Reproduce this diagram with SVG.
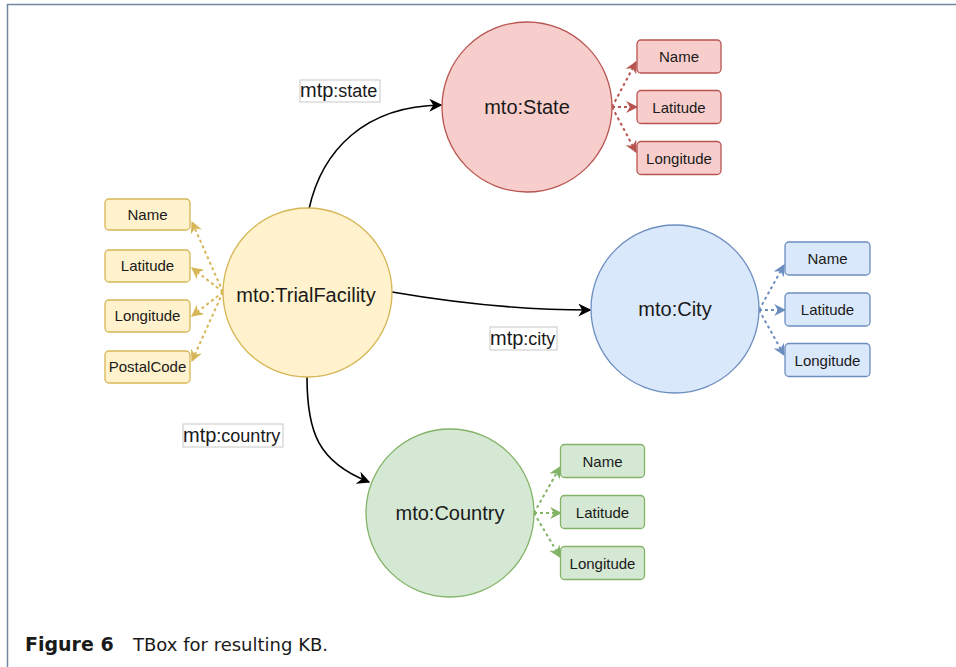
<svg xmlns="http://www.w3.org/2000/svg" width="956" height="667" viewBox="0 0 956 667">
<style>
text{font-family:"Liberation Sans",Arial,Helvetica,sans-serif;fill:#1a1a1a}
.nodeT{font-size:20px;text-anchor:middle}
.prop{font-size:15px;text-anchor:middle}
.edge{fill:none;stroke:#000;stroke-width:1.6}
.dy{fill:none;stroke:#d6b656;stroke-width:2;stroke-dasharray:3 3}
.dr{fill:none;stroke:#b85450;stroke-width:2;stroke-dasharray:3 3}
.db{fill:none;stroke:#6c8ebf;stroke-width:2;stroke-dasharray:3 3}
.dg{fill:none;stroke:#82b366;stroke-width:2;stroke-dasharray:3 3}
.y{fill:#fff2cc;stroke:#d6b656;stroke-width:1.3}
.r{fill:#f8cecc;stroke:#b85450;stroke-width:1.3}
.b{fill:#dae8fc;stroke:#6c8ebf;stroke-width:1.3}
.g{fill:#d5e8d4;stroke:#82b366;stroke-width:1.3}
.lbl{fill:#fff;stroke:#c8c8c8;stroke-width:1}
.big{font-size:20px}
.sm{font-size:18px}
.cap{font-family:"DejaVu Sans",sans-serif;font-size:18px}
</style>
<defs>
<marker id="ak" viewBox="0 0 10 10" refX="9" refY="5" markerWidth="13" markerHeight="13" markerUnits="userSpaceOnUse" orient="auto"><path d="M0,0 L10,5 L0,10 L3,5 z" fill="#000"/></marker>
<marker id="ay" viewBox="0 0 10 10" refX="9" refY="5" markerWidth="12" markerHeight="12" markerUnits="userSpaceOnUse" orient="auto"><path d="M0,0 L10,5 L0,10 L3,5 z" fill="#d6b656"/></marker>
<marker id="ar" viewBox="0 0 10 10" refX="9" refY="5" markerWidth="12" markerHeight="12" markerUnits="userSpaceOnUse" orient="auto"><path d="M0,0 L10,5 L0,10 L3,5 z" fill="#b85450"/></marker>
<marker id="ab" viewBox="0 0 10 10" refX="9" refY="5" markerWidth="12" markerHeight="12" markerUnits="userSpaceOnUse" orient="auto"><path d="M0,0 L10,5 L0,10 L3,5 z" fill="#6c8ebf"/></marker>
<marker id="ag" viewBox="0 0 10 10" refX="9" refY="5" markerWidth="12" markerHeight="12" markerUnits="userSpaceOnUse" orient="auto"><path d="M0,0 L10,5 L0,10 L3,5 z" fill="#82b366"/></marker>
</defs>
<rect width="956" height="667" fill="#fff"/>
<path d="M7.5,667 L7.5,4.5 L956,4.5" fill="none" stroke="#7088a0" stroke-width="1.5"/>

<g id="connectors">
<path class="edge" marker-end="url(#ak)" d="M309,209 C322,150 365,106 441,105"/>
<path class="edge" marker-end="url(#ak)" d="M392,292 C450,302 520,310 590,310"/>
<path class="edge" marker-end="url(#ak)" d="M307,377 C307,432 318,462 369,482"/>
<path class="dy" marker-end="url(#ay)" d="M223,292 L192,222"/>
<path class="dy" marker-end="url(#ay)" d="M223,292 L192,268"/>
<path class="dy" marker-end="url(#ay)" d="M223,292 L192,316"/>
<path class="dy" marker-end="url(#ay)" d="M223,292 L192,361"/>
<path class="dr" marker-end="url(#ar)" d="M612,107 L636,62"/>
<path class="dr" marker-end="url(#ar)" d="M612,107 L637,107"/>
<path class="dr" marker-end="url(#ar)" d="M612,107 L636,152"/>
<path class="db" marker-end="url(#ab)" d="M759,310 L784,265"/>
<path class="db" marker-end="url(#ab)" d="M759,310 L785,310"/>
<path class="db" marker-end="url(#ab)" d="M759,310 L784,355"/>
<path class="dg" marker-end="url(#ag)" d="M534,513 L560,467"/>
<path class="dg" marker-end="url(#ag)" d="M534,513 L561,513"/>
<path class="dg" marker-end="url(#ag)" d="M534,513 L560,557"/>
</g>

<g id="label-state"><rect class="lbl" x="300" y="80" width="80" height="22"/><text x="300" y="97"><tspan class="big">mtp</tspan><tspan class="sm">:state</tspan></text></g>
<g id="label-city"><rect class="lbl" x="490" y="327" width="67" height="23"/><text x="490" y="345"><tspan class="big">mtp</tspan><tspan class="sm">:city</tspan></text></g>
<g id="label-country"><rect class="lbl" x="183" y="424" width="100" height="23"/><text x="183" y="442"><tspan class="big">mtp</tspan><tspan class="sm">:country</tspan></text></g>

<g id="TrialFacility"><circle class="y" cx="307.5" cy="292.5" r="84.5"/><text class="nodeT" x="306" y="302">mto:TrialFacility</text></g>
<g id="State"><circle class="r" cx="527" cy="107" r="85"/><text class="nodeT" x="527" y="114">mto:State</text></g>
<g id="City"><circle class="b" cx="675" cy="309" r="84"/><text class="nodeT" x="675" y="316">mto:City</text></g>
<g id="Country"><circle class="g" cx="450" cy="513" r="84"/><text class="nodeT" x="450" y="520">mto:Country</text></g>

<g id="tf-name"><rect class="y" x="105" y="199" width="85" height="31" rx="4"/><text class="prop" x="147.5" y="220">Name</text></g>
<g id="tf-lat"><rect class="y" x="105" y="250" width="85" height="32" rx="4"/><text class="prop" x="147.5" y="271">Latitude</text></g>
<g id="tf-long"><rect class="y" x="105" y="300" width="85" height="32" rx="4"/><text class="prop" x="147.5" y="321">Longitude</text></g>
<g id="tf-postal"><rect class="y" x="105" y="351" width="85" height="32" rx="4"/><text class="prop" x="147.5" y="372">PostalCode</text></g>

<g id="st-name"><rect class="r" x="637" y="40" width="84" height="33" rx="4"/><text class="prop" x="679" y="62">Name</text></g>
<g id="st-lat"><rect class="r" x="637" y="90.5" width="84" height="33" rx="4"/><text class="prop" x="679" y="112.5">Latitude</text></g>
<g id="st-long"><rect class="r" x="637" y="141.5" width="84" height="33" rx="4"/><text class="prop" x="679" y="163.5">Longitude</text></g>

<g id="ci-name"><rect class="b" x="785" y="242" width="85" height="33" rx="4"/><text class="prop" x="827.5" y="264">Name</text></g>
<g id="ci-lat"><rect class="b" x="785" y="293" width="85" height="33" rx="4"/><text class="prop" x="827.5" y="315">Latitude</text></g>
<g id="ci-long"><rect class="b" x="785" y="343.5" width="85" height="33" rx="4"/><text class="prop" x="827.5" y="365.5">Longitude</text></g>

<g id="co-name"><rect class="g" x="560.5" y="444.5" width="84" height="33" rx="4"/><text class="prop" x="602.5" y="466.5">Name</text></g>
<g id="co-lat"><rect class="g" x="560.5" y="495.5" width="84" height="33" rx="4"/><text class="prop" x="602.5" y="517.5">Latitude</text></g>
<g id="co-long"><rect class="g" x="560.5" y="546.5" width="84" height="33" rx="4"/><text class="prop" x="602.5" y="568.5">Longitude</text></g>

<text class="cap" x="25" y="651"><tspan font-weight="bold" font-size="19">Figure 6</tspan><tspan x="133">TBox for resulting KB.</tspan></text>
</svg>
